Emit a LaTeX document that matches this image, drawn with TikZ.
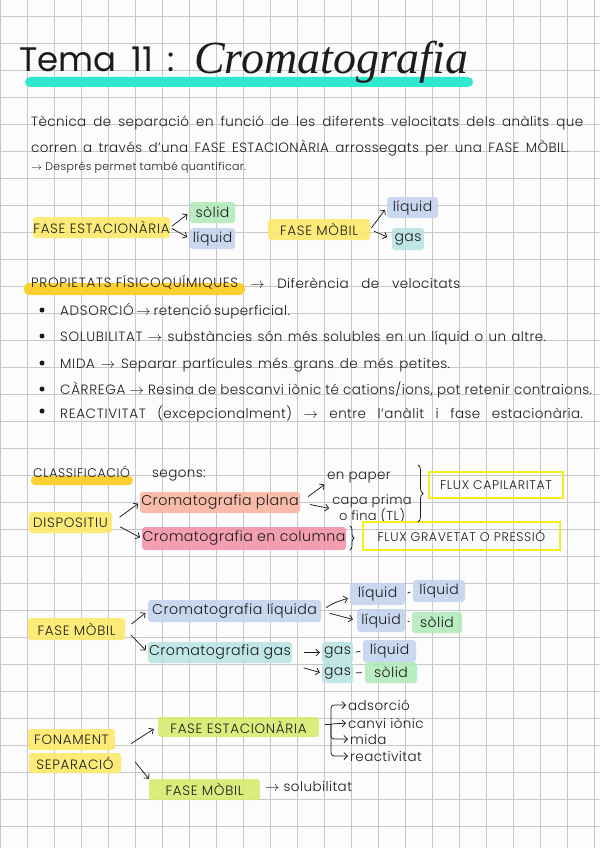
\documentclass[tikz,border=0pt]{standalone}
\usepackage{fontspec}
\IfFontExistsTF{Poppins Light}{%
  \setmainfont[LetterSpace=3]{Poppins Light}
  \newfontfamily\capsf[LetterSpace=5]{Poppins Light}}{%
  \setmainfont[LetterSpace=3]{Poppins}
  \newfontfamily\capsf[LetterSpace=5]{Poppins}}
\newfontfamily\temaf{Poppins}
\newfontfamily\titlef{Liberation Serif}
\usetikzlibrary{arrows.meta,decorations.pathreplacing}

\definecolor{paper}{RGB}{252,252,252}
\definecolor{gridgray}{RGB}{200,200,200}
\definecolor{ink}{RGB}{28,28,28}
\definecolor{tealbar}{RGB}{46,232,208}
\definecolor{hlyellow}{RGB}{253,233,104}
\definecolor{hlorange}{RGB}{252,208,48}
\definecolor{hlgreen}{RGB}{178,234,185}
\definecolor{hlblue}{RGB}{195,212,238}
\definecolor{hlteal}{RGB}{184,227,226}
\definecolor{hlsalmon}{RGB}{249,180,160}
\definecolor{hlpink}{RGB}{244,145,168}
\definecolor{hllime}{RGB}{215,234,107}
\definecolor{fluxyellow}{RGB}{245,238,30}

\newcommand{\spread}[2]{\makebox[#1][s]{#2}}

\begin{document}
\begin{tikzpicture}[x=1pt, y=-1pt,
    mygrid/.style={draw=gridgray, line width=0.8pt},
    mybox/.style={rounded corners=3pt, inner sep=0pt, fill opacity=0.88, text opacity=1, text=ink, font=\fontsize{14}{16}\selectfont},
    mycaps/.style={mybox, font=\capsf\fontsize{13.5}{15}\selectfont},
    mybig/.style={mybox, font=\fontsize{14.2}{16}\selectfont},
    mytext/.style={text=ink, inner sep=0pt, font=\fontsize{13.5}{15}\selectfont},
    myflux/.style={draw=fluxyellow, line width=2pt, inner sep=0pt, text=ink, font=\capsf\fontsize{12.5}{14}\selectfont},
    myarrow/.style={-{Straight Barb[length=3.5pt,width=7pt]}, draw=ink, line width=0.75pt},
    myline/.style={draw=ink, line width=0.75pt},
    mybrace/.style={draw=ink, line width=0.75pt, decorate, decoration={brace, amplitude=5pt}},
    mydot/.style={circle, fill=ink, inner sep=0pt, minimum size=5pt}
]
    \useasboundingbox (0,0) rectangle (600,848);
    \fill[paper] (0,0) rectangle (600,848);

    % squared paper
    \foreach \i in {0,...,22}
        \draw[mygrid] (27*\i,0) -- (27*\i,848);
    \foreach \j in {0,...,30}
        \draw[mygrid] (0,16.7+27*\j) -- (600,16.7+27*\j);

    % title
    \fill[tealbar, rounded corners=5pt] (25,77) rectangle (473,87);
    \node[mytext, anchor=base west, font=\temaf\fontsize{34}{34}\selectfont] (tema) at (19,72) {\spread{156pt}{Tema 11 :}};
    \node[mytext, anchor=base west, font=\titlef\itshape\fontsize{46}{46}\selectfont] (crom) at (194,74) {Cromatografia};

    % definition
    \node[mytext, anchor=base west] (intro1) at (31,126) {\spread{552pt}{Tècnica de separació en funció de les diferents velocitats dels anàlits que}};
    \node[mytext, anchor=base west] (intro2) at (31,152) {\spread{538pt}{corren a través d'una FASE ESTACIONÀRIA arrossegats per una FASE MÒBIL.}};
    \node[mytext, anchor=base west, font=\fontsize{11}{13}\selectfont] (intro3) at (31,170) {\spread{215pt}{$\rightarrow$ Després permet també quantificar.}};

    % the two phases
    \node[mycaps, fill=hlyellow, minimum width=137pt, minimum height=21pt] (fe1) at (101.5,227.5) {FASE ESTACIONÀRIA};
    \node[mybox, fill=hlgreen, minimum width=45pt, minimum height=21pt] (sol1) at (212.5,212.5) {sòlid};
    \node[mybox, fill=hlblue, minimum width=45pt, minimum height=21pt] (liq1) at (212.5,238.5) {líquid};
    \node[mycaps, fill=hlyellow, minimum width=102pt, minimum height=21pt] (fm1) at (319,229.5) {FASE MÒBIL};
    \node[mybox, fill=hlblue, minimum width=51pt, minimum height=21pt] (liq2) at (412.5,207.5) {líquid};
    \node[mybox, fill=hlteal, minimum width=32pt, minimum height=22pt] (gas1) at (408,239) {gas};

    \draw[myarrow, shorten <=2pt, shorten >=3pt] (fe1.east) -- (sol1.west);
    \draw[myarrow, shorten <=2pt, shorten >=3pt] (fe1.east) -- (liq1.west);
    \draw[myarrow, shorten <=2pt, shorten >=3pt] (fm1.east) -- (liq2.west);
    \draw[myarrow, shorten <=4pt, shorten >=5pt] (fm1.east) -- (gas1.west);

    % properties
    \fill[hlorange, rounded corners=5pt] (24,283) rectangle (245,295);
    \node[mytext, anchor=base west, font=\capsf\fontsize{13.5}{15}\selectfont] (prop) at (31,287) {PROPIETATS FÍSICOQUÍMIQUES};
    \node[mytext, anchor=base west] (dif) at (250,288) {\spread{210pt}{$\rightarrow$ Diferència de velocitats}};

    \node[mydot] (d1) at (42,310) {};
    \node[mytext, anchor=base west] (b1) at (60,315) {\spread{228pt}{{\capsf ADSORCIÓ} $\rightarrow$ retenció superficial.}};
    \node[mydot] (d2) at (42,336) {};
    \node[mytext, anchor=base west] (b2) at (60,341) {\spread{486pt}{{\capsf SOLUBILITAT} $\rightarrow$ substàncies són més solubles en un líquid o un altre.}};
    \node[mydot] (d3) at (42,363) {};
    \node[mytext, anchor=base west] (b3) at (60,368) {\spread{390pt}{{\capsf MIDA} $\rightarrow$ Separar partícules més grans de més petites.}};
    \node[mydot] (d4) at (42,389) {};
    \node[mytext, anchor=base west] (b4) at (60,394) {\spread{532pt}{{\capsf CÀRREGA} $\rightarrow$ Resina de bescanvi iònic té cations/ions, pot retenir contraions.}};
    \node[mydot] (d5) at (42,411) {};
    \node[mytext, anchor=base west] (b5) at (60,418) {\spread{523pt}{{\capsf REACTIVITAT} (excepcionalment) $\rightarrow$ entre l'anàlit i fase estacionària.}};

    % classification by device
    \fill[hlorange, rounded corners=4pt] (31,476) rectangle (133,485);
    \node[mytext, anchor=base west, font=\capsf\fontsize{12.5}{14}\selectfont] (clas) at (33,477) {CLASSIFICACIÓ};
    \node[mytext, anchor=base west] (segons) at (152,477) {segons:};
    \node[mycaps, fill=hlyellow, minimum width=83pt, minimum height=21pt] (disp) at (70.5,522.5) {DISPOSITIU};
    \node[mybig, fill=hlsalmon, minimum width=160pt, minimum height=21pt] (plana) at (220,502.5) {Cromatografia plana};
    \node[mybig, fill=hlpink, minimum width=204pt, minimum height=23pt] (colum) at (244,538.5) {Cromatografia en columna};
    \node[mytext] (paper) at (359,477) {en paper};
    \node[mytext, align=center, font=\fontsize{13}{13}\selectfont] (capa) at (372,509) {capa prima\\o fina (TL)};
    \node[myflux, minimum width=134pt, minimum height=26pt] (flux1) at (496,485) {FLUX CAPILARITAT};
    \node[myflux, minimum width=197pt, minimum height=28pt] (flux2) at (461.5,536) {FLUX GRAVETAT O PRESSIÓ};

    \draw[myarrow, shorten <=9pt, shorten >=2pt] (disp.east) -- (plana.west);
    \draw[myarrow, shorten <=9pt, shorten >=2pt] (disp.east) -- (colum.west);
    \draw[myarrow, shorten <=10pt, shorten >=3pt] (plana.east) -- (paper.south west);
    \draw[myarrow, shorten <=10pt, shorten >=3pt] (plana.east) -- (capa.west);
    \draw[mybrace] (418,465) -- (418,522);
    \draw[mybrace, decoration={brace, amplitude=4pt}] (350,526) -- (350,550);

    % mobile phase
    \node[mycaps, fill=hlyellow, minimum width=97pt, minimum height=22pt] (fm2) at (76.5,629) {FASE MÒBIL};
    \node[mybig, fill=hlblue, minimum width=173pt, minimum height=22pt] (cliq) at (234.5,611) {Cromatografia líquida};
    \node[mybig, fill=hlteal, minimum width=144pt, minimum height=21pt] (cgas) at (220,652.5) {Cromatografia gas};

    \node[mybox, fill=hlblue, minimum width=55pt, minimum height=22pt] (ll1) at (377.5,594) {líquid};
    \node[mybox, fill=hlblue, minimum width=52pt, minimum height=22pt] (ll2) at (439,591) {líquid};
    \node[mybox, fill=hlblue, minimum width=48pt, minimum height=23pt] (ls1) at (381,620.5) {líquid};
    \node[mybox, fill=hlgreen, minimum width=50pt, minimum height=21pt] (ls2) at (437,622.5) {sòlid};
    \node[mybox, fill=hlteal, minimum width=31pt, minimum height=21pt] (gl1) at (337.5,652.5) {gas};
    \node[mybox, fill=hlblue, minimum width=53pt, minimum height=22pt] (gl2) at (389.5,651) {líquid};
    \node[mybox, fill=hlteal, minimum width=31pt, minimum height=20pt] (gs1) at (337.5,673) {gas};
    \node[mybox, fill=hlgreen, minimum width=52pt, minimum height=21pt] (gs2) at (391,672.5) {sòlid};

    \draw[myarrow, shorten <=8pt, shorten >=3pt] (fm2.east) -- (cliq.west);
    \draw[myarrow, shorten <=8pt, shorten >=3pt] (fm2.east) -- (cgas.west);
    \draw[myarrow, shorten <=6pt, shorten >=2pt] (cliq.east) to[bend left=10] ([yshift=-4pt]ll1.west);
    \draw[myarrow, shorten <=9pt, shorten >=4pt] (cliq.east) -- (ls1.west);
    \draw[myarrow, shorten <=12pt, shorten >=2pt] (cgas.east) -- (gl1.west);
    \draw[myarrow, shorten <=12pt, shorten >=2pt] ([yshift=-12pt]cgas.east) -- (gs1.west);
    \draw[myline, shorten <=2.5pt, shorten >=2.5pt] (ll1.east) -- (ll2.west);
    \draw[myline, shorten <=2.5pt, shorten >=2.5pt] (ls1.east) -- (ls2.west);
    \draw[myline, shorten <=2.5pt, shorten >=2.5pt] (gl1.east) -- (gl2.west);
    \draw[myline, shorten <=3pt, shorten >=3pt] (gs1.east) -- (gs2.west);

    % basis of the separation
    \node[mycaps, fill=hlyellow, minimum width=87pt, minimum height=21pt] (fon) at (71.5,739.5) {FONAMENT};
    \node[mycaps, fill=hlyellow, minimum width=92pt, minimum height=20pt] (sep) at (75,763) {SEPARACIÓ};
    \node[mycaps, fill=hllime, minimum width=161pt, minimum height=20pt] (fest) at (238.5,727) {FASE ESTACIONÀRIA};
    \node[mycaps, fill=hllime, minimum width=111pt, minimum height=21pt] (fmob) at (204.5,789.5) {FASE MÒBIL};
    \node[mytext, anchor=west] (solub) at (265,786) {$\rightarrow$ solubilitat};

    \node[mytext, anchor=west] (ads) at (348,705) {adsorció};
    \node[mytext, anchor=west] (canv) at (348,723) {canvi iònic};
    \node[mytext, anchor=west] (mida) at (350,739) {mida};
    \node[mytext, anchor=west] (reac) at (350,756) {reactivitat};
    \coordinate (tr) at (331,724);

    \draw[myarrow] ([xshift=16pt,yshift=-4pt]fon.east) -- ([xshift=-4pt,yshift=-2pt]fest.west);
    \draw[myarrow] ([xshift=14pt,yshift=1pt]sep.east) -- (fmob.north west);
    \draw[myline] ([xshift=6pt,yshift=3pt]fest.east) -- (tr);
    \draw[myarrow, rounded corners=3pt, shorten >=2pt] (tr) |- (ads.west);
    \draw[myarrow, shorten >=2pt] (tr) -- (canv.west);
    \draw[myarrow, rounded corners=3pt, shorten >=2pt] (tr) |- (mida.west);
    \draw[myarrow, rounded corners=3pt, shorten >=2pt] (tr) |- (reac.west);
\end{tikzpicture}
\end{document}
